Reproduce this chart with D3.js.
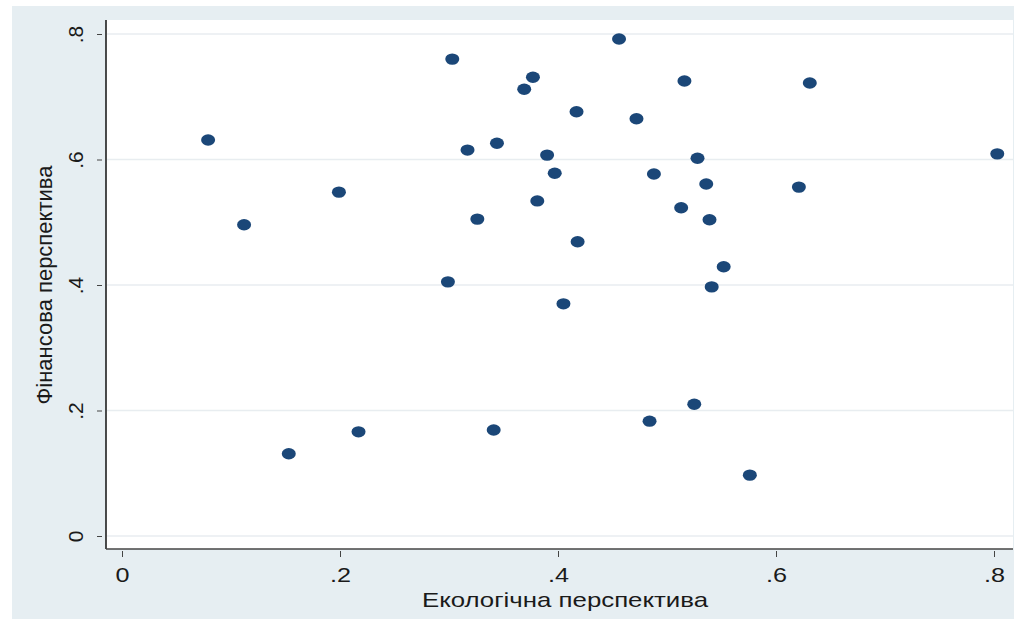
<!DOCTYPE html>
<html lang="uk">
<head>
<meta charset="utf-8">
<script src="https://d3js.org/d3.v7.min.js"></script>
<style>
  body { margin: 0; background: #fff; }
  text { font-family: "Liberation Sans", Arial, sans-serif; fill: #1a1a1a; }
</style>
</head>
<body>
<svg width="1018" height="619"></svg>
<script>
// ecological perspective (x) vs financial perspective (y)
var ecoValues = [0.079, 0.112, 0.153, 0.199, 0.217, 0.299, 0.303, 0.317, 0.326, 0.341,
                 0.344, 0.369, 0.377, 0.381, 0.390, 0.397, 0.405, 0.417, 0.418, 0.456,
                 0.472, 0.484, 0.488, 0.513, 0.516, 0.525, 0.528, 0.536, 0.539, 0.541,
                 0.552, 0.576, 0.621, 0.631, 0.803];
var finValues = [0.631, 0.496, 0.131, 0.548, 0.166, 0.405, 0.760, 0.615, 0.505, 0.169,
                 0.626, 0.712, 0.731, 0.534, 0.607, 0.578, 0.370, 0.676, 0.469, 0.792,
                 0.665, 0.183, 0.577, 0.523, 0.725, 0.210, 0.602, 0.561, 0.504, 0.397,
                 0.429, 0.097, 0.556, 0.722, 0.609];
var xTicks = [0, 0.2, 0.4, 0.6, 0.8];
var yTicks = [0, 0.2, 0.4, 0.6, 0.8];
var xTitle = "Екологічна перспектива";
var yTitle = "Фінансова перспектива";

var svg = d3.select("svg");

// plot frame (note: "top" is taken by window.top)
var plotL = 106, plotR = 1013, plotT = 20, plotB = 549;

var x = d3.scaleLinear().domain([0, 0.8]).range([122, 994]);
var y = d3.scaleLinear().domain([0, 0.8]).range([536, 34]);

var fmt = function (d) { return d === 0 ? "0" : d3.format(".1f")(d).replace(/^0/, ""); };

// outer (graph region) background
svg.append("rect")
    .attr("x", 12).attr("y", 6)
    .attr("width", 1002).attr("height", 613)
    .attr("fill", "#e6eef2");

// plot region
svg.append("rect")
    .attr("x", plotL).attr("y", plotT)
    .attr("width", plotR - plotL).attr("height", plotB - plotT)
    .attr("fill", "#ffffff");

// grid lines
svg.append("g")
    .selectAll("line")
    .data(yTicks)
    .enter()
    .append("line")
    .attr("x1", plotL + 1).attr("x2", plotR)
    .attr("y1", function (d) { return y(d); })
    .attr("y2", function (d) { return y(d); })
    .attr("stroke", "#e8edf0")
    .attr("stroke-width", 1.5);

// x axis
var gx = svg.append("g")
    .attr("transform", "translate(0," + plotB + ")")
    .call(d3.axisBottom(x).tickValues(xTicks).tickFormat(fmt).tickSize(8));
gx.select(".domain").remove();
gx.selectAll(".tick line").attr("y1", 2).attr("y2", 8).attr("stroke", "#444");
gx.selectAll(".tick text")
    .attr("y", 0).attr("dy", 0)
    .attr("transform", "translate(0,33) scale(1.2,1)")
    .style("font-size", "21px")
    .style("font-family", "'Liberation Sans', Arial, sans-serif")
    .attr("fill", "#1a1a1a");

// y axis
var gy = svg.append("g")
    .attr("transform", "translate(" + plotL + ",0)")
    .call(d3.axisLeft(y).tickValues(yTicks).tickFormat(fmt).tickSize(9));
gy.select(".domain").remove();
gy.selectAll(".tick line").attr("x1", -4).attr("x2", -9).attr("stroke", "#444");
gy.selectAll(".tick text")
    .attr("x", 0).attr("dy", 0)
    .attr("text-anchor", "middle")
    .attr("transform", "translate(-23,0) rotate(-90)")
    .style("font-size", "21px")
    .style("font-family", "'Liberation Sans', Arial, sans-serif")
    .attr("fill", "#1a1a1a");

// axis lines
svg.append("line")
    .attr("x1", plotL).attr("x2", plotL)
    .attr("y1", plotT).attr("y2", plotB)
    .attr("stroke", "#111").attr("stroke-width", 1.5);
svg.append("line")
    .attr("x1", plotL).attr("x2", plotR)
    .attr("y1", plotB).attr("y2", plotB)
    .attr("stroke", "#444").attr("stroke-width", 1.5);

// axis titles
svg.append("text")
    .attr("transform", "translate(565,607) scale(1.23,1)")
    .attr("text-anchor", "middle")
    .style("font-size", "21px")
    .text(xTitle);
svg.append("text")
    .attr("transform", "translate(52,285) rotate(-90)")
    .attr("text-anchor", "middle")
    .style("font-size", "22px")
    .text(yTitle);

// points
svg.append("g")
    .selectAll("ellipse")
    .data(ecoValues.map(function (v, i) { return { eco: v, fin: finValues[i] }; }))
    .enter()
    .append("ellipse")
    .attr("cx", function (d) { return x(d.eco); })
    .attr("cy", function (d) { return y(d.fin); })
    .attr("rx", 7)
    .attr("ry", 5.7)
    .attr("fill", "#1b4778");
</script>
</body>
</html>
